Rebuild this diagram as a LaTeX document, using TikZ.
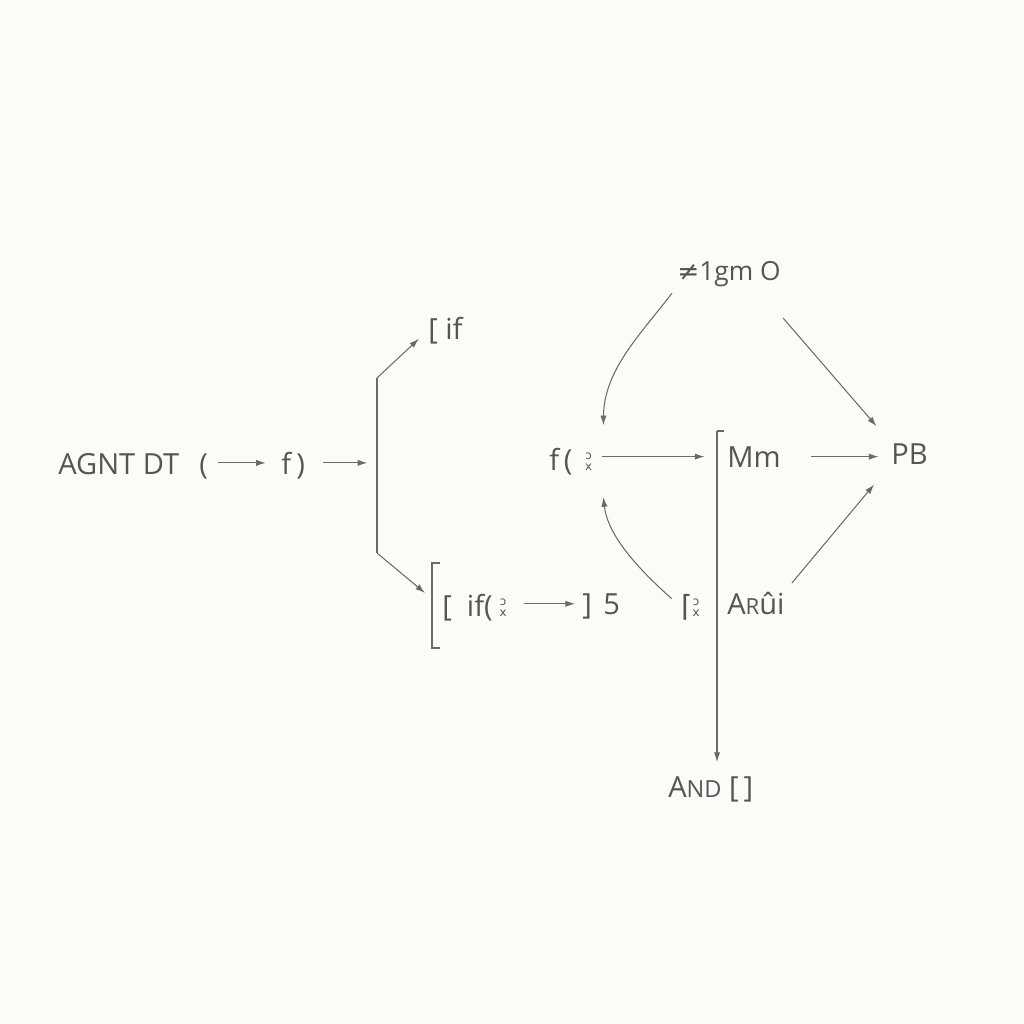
\documentclass[tikz,border=0pt]{standalone}
\usepackage{fontspec}
\setmainfont{Open Sans}
\newfontfamily\symfont{DejaVu Sans}
\usetikzlibrary{arrows.meta}
\definecolor{ink}{HTML}{555555}
\definecolor{wire}{HTML}{6A6A6A}
\definecolor{paper}{HTML}{FBFBF8}
\newcommand{\oxstack}{{\symfont\fontsize{8.5}{11}\selectfont\shortstack{ɔ\\x}}}
\tikzset{
  lbl/.style={text=ink,inner sep=0pt,font=\fontsize{21}{25}\selectfont},
  arr/.style={draw=wire,line width=0.75pt,-{Latex[length=7pt,width=4.5pt]}},
  rule/.style={draw=wire,line width=1pt}
}
\begin{document}
\begin{tikzpicture}[x=0.01in,y=-0.01in]
  \fill[paper] (0,0) rectangle (1024,1024);
  \useasboundingbox (0,0) rectangle (1024,1024);
  \node[lbl,anchor=base west] (agnt) at (58,474) {AGNT DT};
  \node[lbl,anchor=base west] (lpar) at (199,474) {(};
  \node[lbl,anchor=base west] (fx) at (281,474) {f};
  \node[lbl,anchor=base west] (rpar) at (296,474) {)};
  \draw[arr,shorten <=7pt,shorten >=11pt] (lpar.east |- fx.center) -- (fx.west);
  \coordinate (forktop) at (377,378);
  \coordinate (forkbot) at (377,553);
  \draw[arr,shorten <=13pt,shorten >=7pt] (rpar.east |- fx.center) -- (forktop |- fx.center);
  \draw[rule] (forktop) -- (forkbot);
  \node[lbl,anchor=base west] (ifa) at (428,339) {[ if};
  \draw[arr,shorten >=9pt] (forktop) -- (ifa.west);
  \node[lbl,anchor=base west] (ifb) at (442,616) {[ \ if(\hspace{5pt}\oxstack};
  \draw[rule] (440,563) -| (432,648) -- (440,648);
  \node[lbl,anchor=base west] (rbr) at (582,614) {]};
  \node[lbl,anchor=base west] (five) at (603,614) {5};
  \draw[arr,shorten <=12pt,shorten >=5pt] (ifb.east |- five.center) -- (rbr.west |- five.center);
  \draw[arr,shorten >=16pt] (forkbot) -- (ifb.west);
  \node[lbl,anchor=base west] (fc) at (549,470) {f\,(\hspace{9pt}\oxstack};
  \node[lbl,anchor=base west] (mm) at (727,467) {Mm};
  \node[lbl,anchor=base west] (pb) at (891,464) {PB};
  \coordinate (mtop) at (717,431);
  \draw[rule] (724,431) -- (mtop);
  \draw[arr,shorten <=7pt,shorten >=9pt] (fc.east |- mm.center) -- (mtop |- mm.center);
  \draw[arr,shorten <=22pt,shorten >=9pt] (mm.east) -- (mm.east -| pb.west);
  \node[lbl,font=\fontsize{19}{23}\selectfont,anchor=base west] (sigma) at (677,280) {{\symfont ≠}1gm O};
  \node[lbl,anchor=base west] (gam) at (681,616) {{\symfont ⌈}\oxstack};
  \node[lbl,anchor=base west] (arui) at (727,614) {A{\fontsize{16}{20}\selectfont R}ûi};
  \node[lbl,anchor=base west] (andn) at (668,797) {A{\fontsize{17}{20}\selectfont ND} [\,]};
  \draw[arr] (mtop) -- ([yshift=10pt]mtop |- andn.north);
  \draw[arr,shorten <=6pt] (sigma.south west) .. controls (640,335) and (604,370) .. ([xshift=8pt,yshift=16pt]fc.north east);
  \draw[arr,shorten <=30pt,shorten >=16pt] ([xshift=-18pt]sigma.south east) -- (pb.north west);
  \draw[arr,shorten <=9pt] (gam.west) .. controls (628,560) and (607,530) .. ([xshift=8pt,yshift=-16pt]fc.south east);
  \draw[arr,shorten <=8pt,shorten >=19pt] (arui.north east) -- (pb.south west);
\end{tikzpicture}
\end{document}
